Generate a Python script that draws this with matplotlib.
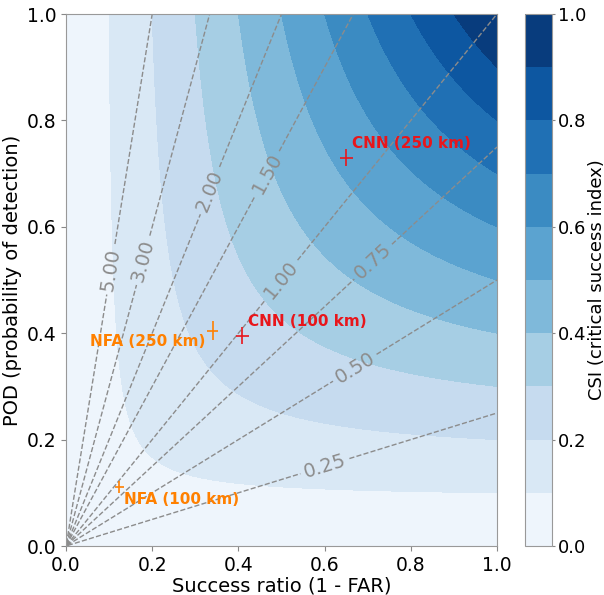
import numpy as np
import matplotlib
matplotlib.use("Agg")
import matplotlib.pyplot as plt

# Model scores (success ratio, POD) with small uncertainty bars
names = ["CNN (250 km)", "CNN (100 km)", "NFA (250 km)", "NFA (100 km)"]
success_ratio = [0.65, 0.409, 0.340, 0.124]
pod = [0.730, 0.395, 0.405, 0.111]
sr_err = [0.015, 0.015, 0.013, 0.011]
pod_err = [0.016, 0.016, 0.017, 0.011]
colors = ["#e8161b", "#e8161b", "#ff8000", "#ff8000"]

csi_levels = [0.0, 0.1, 0.2, 0.3, 0.4, 0.5, 0.6, 0.7, 0.8, 0.9, 1.0]
bias_levels = [0.25, 0.5, 0.75, 1.0, 1.5, 2.0, 3.0, 5.0]
bias_label_pos = [(0.60, 0.152), (0.67, 0.335), (0.712, 0.535), (0.50, 0.50),
                  (0.466, 0.70), (0.334, 0.668), (0.179, 0.537), (0.105, 0.52)]

plt.rcParams["font.family"] = "DejaVu Sans"
fig = plt.figure(figsize=(6.04, 5.95), dpi=100)
ax = fig.add_axes([66 / 604, 49 / 595, 431 / 604, 532 / 595])
cax = fig.add_axes([525 / 604, 49 / 595, 27 / 604, 532 / 595])

sr = np.linspace(0.001, 1, 400)
pd_ = np.linspace(0.001, 1, 400)
SR, POD = np.meshgrid(sr, pd_)
CSI = 1.0 / (1.0 / SR + 1.0 / POD - 1.0)
BIAS = POD / SR

cf = ax.contourf(SR, POD, CSI, levels=csi_levels, cmap="Blues")
cs = ax.contour(SR, POD, BIAS, levels=bias_levels, colors="#8c8c8c",
                linestyles="dashed", linewidths=1.0)
ax.clabel(cs, fmt="%.2f", manual=bias_label_pos, fontsize=14, inline=True,
          inline_spacing=4, colors="#8c8c8c")

for x, y, xe, ye, c in zip(success_ratio, pod, sr_err, pod_err, colors):
    ax.errorbar(x, y, xerr=xe, yerr=ye, color=c, lw=1.2, capsize=0)

offsets = [(4, 10, "left"), (4, 10, "left"), (-5, -8, "right"), (3, -9, "left")]
for n, x, y, c, (dx, dy, ha) in zip(names, success_ratio, pod, colors, offsets):
    ax.annotate(n, (x, y), xytext=(dx, dy), textcoords="offset points",
                color=c, fontsize=11, fontweight="bold", ha=ha, va="center")

ax.set_xlim(0, 1)
ax.set_ylim(0, 1)
ax.set_xticks(np.arange(0, 1.01, 0.2))
ax.set_yticks(np.arange(0, 1.01, 0.2))
ax.tick_params(labelsize=13.5, color="#888888")
ax.set_xlabel("Success ratio (1 - FAR)", fontsize=14, labelpad=1)
ax.set_ylabel("POD (probability of detection)", fontsize=14, labelpad=3)
for s in ax.spines.values():
    s.set_color("#999999")

cb = fig.colorbar(cf, cax=cax, ticks=[0, 0.2, 0.4, 0.6, 0.8, 1.0])
cb.ax.tick_params(labelsize=13, color="#888888", length=2, pad=2)
cb.outline.set_edgecolor("#999999")
fig.text(596.5 / 604, 0.5 * (49 + 581) / 595, "CSI (critical success index)",
         rotation=90, ha="center", va="center", fontsize=13)

fig.savefig("out.png", dpi=100)
